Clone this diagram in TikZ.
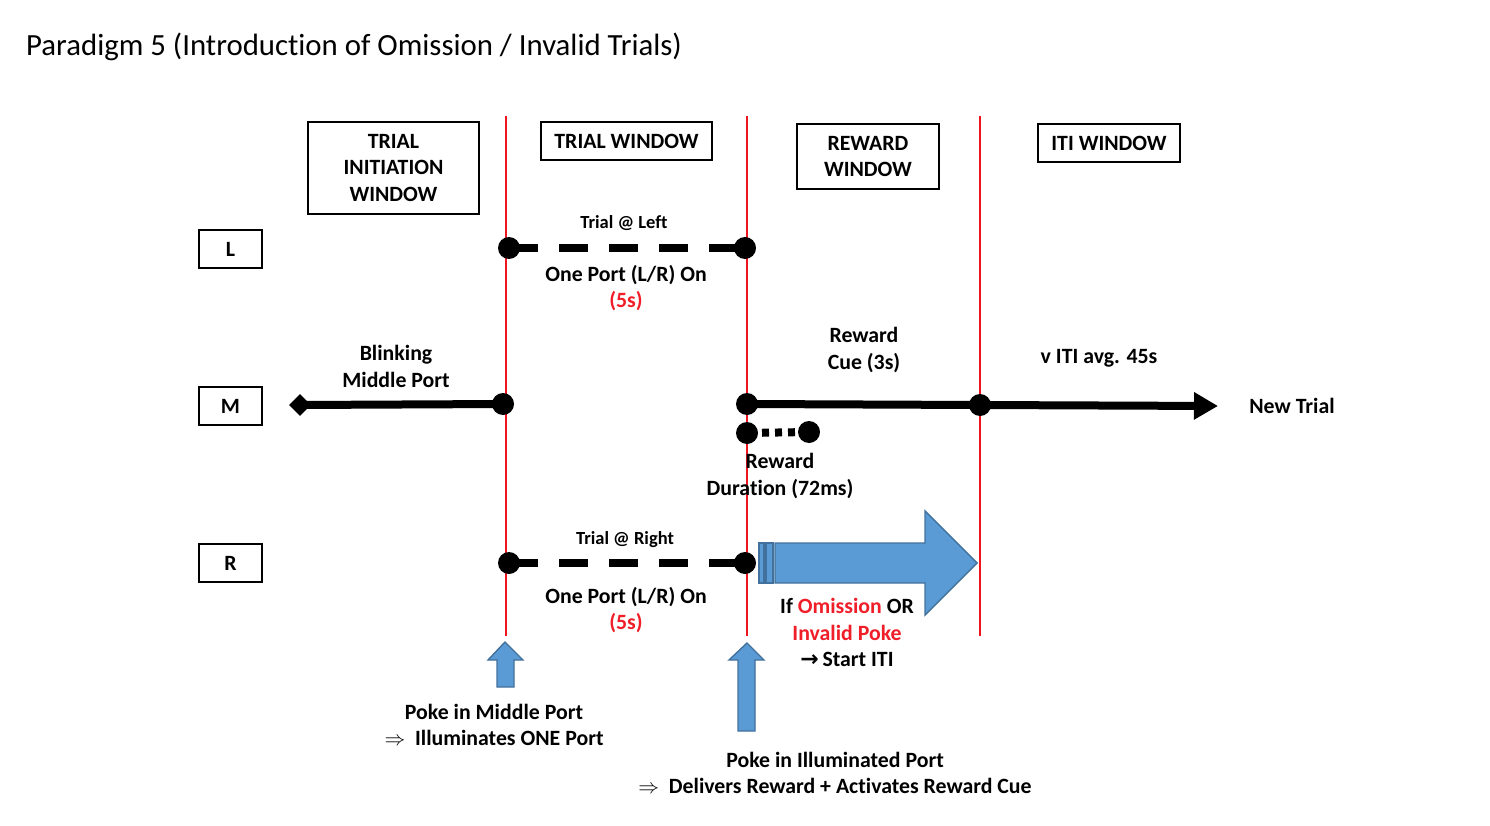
\documentclass[tikz,border=0pt]{standalone}
\usepackage{fontspec}
\setmainfont[Ligatures=NoCommon]{Carlito}
\newfontfamily\djv{DejaVu Sans}
\usetikzlibrary{arrows.meta,shapes.geometric}
\definecolor{vred}{RGB}{240,20,30}
\definecolor{tred}{RGB}{240,30,40}
\definecolor{bfill}{RGB}{91,155,213}
\definecolor{bdraw}{RGB}{65,113,156}
\begin{document}
\begin{tikzpicture}[x=1pt,y=-1pt,
  lbl/.style={font=\fontsize{21.8}{26.5}\selectfont\bfseries, align=center, inner sep=0pt},
  small/.style={font=\fontsize{18.5}{20}\selectfont\bfseries, align=center, inner sep=0pt},
  box/.style={draw, line width=1.1pt, lbl, inner sep=0pt},
  redline/.style={draw=vred, line width=2.6pt},
  dot/.style={circle, fill=black, minimum size=22pt, inner sep=0pt},
  thick line/.style={line width=8pt},
  dashline/.style={line width=8pt, dash pattern=on 29pt off 21pt},
  dotline/.style={line width=8pt, dash pattern=on 7pt off 6pt, dash phase=-15pt},
  blockarrow/.style={fill=bfill, draw=bdraw, line width=1.4pt, line join=miter}
]
\useasboundingbox (0,0) rectangle (1490,826);

% title
\node[anchor=west, inner sep=0pt, font=\fontsize{30.8}{34}\selectfont] (title) at (26,47) {Paradigm 5 (Introduc\kern0pt t\kern0pt ion of Omission / Invalid Trials)};

% window boxes
\node[box, minimum width=171pt, minimum height=92pt] (tiw) at (393.5,168) {TRIAL\\INITIATION\\WINDOW};
\node[box, minimum width=171pt, minimum height=38pt] (tw) at (626.5,141) {TRIAL WINDOW};
\node[box, minimum width=142pt, minimum height=65pt] (rw) at (868,156.5) {REWARD\\WINDOW};
\node[box, minimum width=142pt, minimum height=38pt] (iw) at (1109,143) {ITI WINDOW};

% port boxes
\node[box, minimum width=63pt, minimum height=38pt] (L) at (230.5,249) {L};
\node[box, minimum width=63pt, minimum height=38pt] (M) at (230.5,406) {M};
\node[box, minimum width=63pt, minimum height=38pt] (R) at (230.5,563) {R};

% red vertical lines
\coordinate (v1t) at (506,116); \coordinate (v1b) at (506,636);
\coordinate (v2t) at (747,116); \coordinate (v2b) at (747,636);
\coordinate (v3t) at (980,116); \coordinate (v3b) at (980,636);
\draw[redline] (v1t) -- (v1b);
\draw[redline] (v2t) -- (v2b);
\draw[redline] (v3t) -- (v3b);

% L row
\node[dot] (l1) at (509,248) {};
\node[dot] (l2) at (745,248) {};
\draw[dashline] (l1.center) -- (l2.center);
\node[small] (tl) at (624,223) {Trial @ Left};
\node[lbl] (opl) at (626,288) {One Port (L/R) On\\\textcolor{tred}{(5s)}};

% R row
\node[dot] (r1) at (509,563) {};
\node[dot] (r2) at (745,563) {};
\draw[dashline] (r1.center) -- (r2.center);
\node[small] (tr) at (625,540) {Trial @ Right};
\node[lbl] (opr) at (626,610) {One Port (L/R) On\\\textcolor{tred}{(5s)}};

% M row
\node[diamond, fill=black, minimum size=22pt, inner sep=0pt] (md) at (300,405) {};
\node[dot] (m1) at (503,404) {};
\draw[thick line] (md.center) -- (m1.center);
\node[lbl] (blink) at (396,366.5) {Blinking\\Middle Port};

\node[dot] (m2) at (747,404) {};
\node[dot] (m3) at (980,405) {};
\coordinate (mend) at (1218,406);
\draw[thick line] (m2.center) -- (m3.center);
\draw[thick line, -{Triangle[length=24pt, width=26pt]}] (m3.center) -- (mend);
\node[lbl] (rc) at (864,350) {Reward\\Cue (3s)};
\node[lbl] (iti) at (1099,358) {v ITI avg. 45s};
\node[lbl] (nt) at (1292,406) {New Trial};

% reward duration
\node[dot] (d1) at (747,433) {};
\node[dot] (d2) at (809,432) {};
\draw[dotline] (d1.center) -- (d2.center);
\node[lbl] (rd) at (780,476) {Reward\\Dura\kern0pt t\kern0pt ion (72ms)};

% big right block arrow
\draw[blockarrow] (759,543) rectangle (764,583);
\draw[blockarrow] (766,543) rectangle (773,583);
\draw[blockarrow] (775,543) -- (925,543) -- (925,511) -- (977,563) -- (925,615) -- (925,583) -- (775,583) -- cycle;
\node[lbl] (om) at (847,632.5) {If \textcolor{tred}{Omission} OR\\\textcolor{tred}{Invalid Poke}\\{\djv\bfseries\fontsize{22}{20}\selectfont →}\,Start ITI};

% up arrows
\draw[blockarrow] (505,642) -- (523,660) -- (514,660) -- (514,687) -- (497,687) -- (497,660) -- (488,660) -- cycle;
\draw[blockarrow] (747,643) -- (764,660) -- (755,660) -- (755,731) -- (738,731) -- (738,660) -- (729,660) -- cycle;

\node[lbl] (pm) at (494,725) {Poke in Middle Port\\$\Rightarrow$\ \ Illuminates ONE Port};
\node[lbl] (pi) at (835,773) {Poke in Illuminated Port\\$\Rightarrow$\ \ Delivers Reward + Activates Reward Cue};

\end{tikzpicture}
\end{document}
